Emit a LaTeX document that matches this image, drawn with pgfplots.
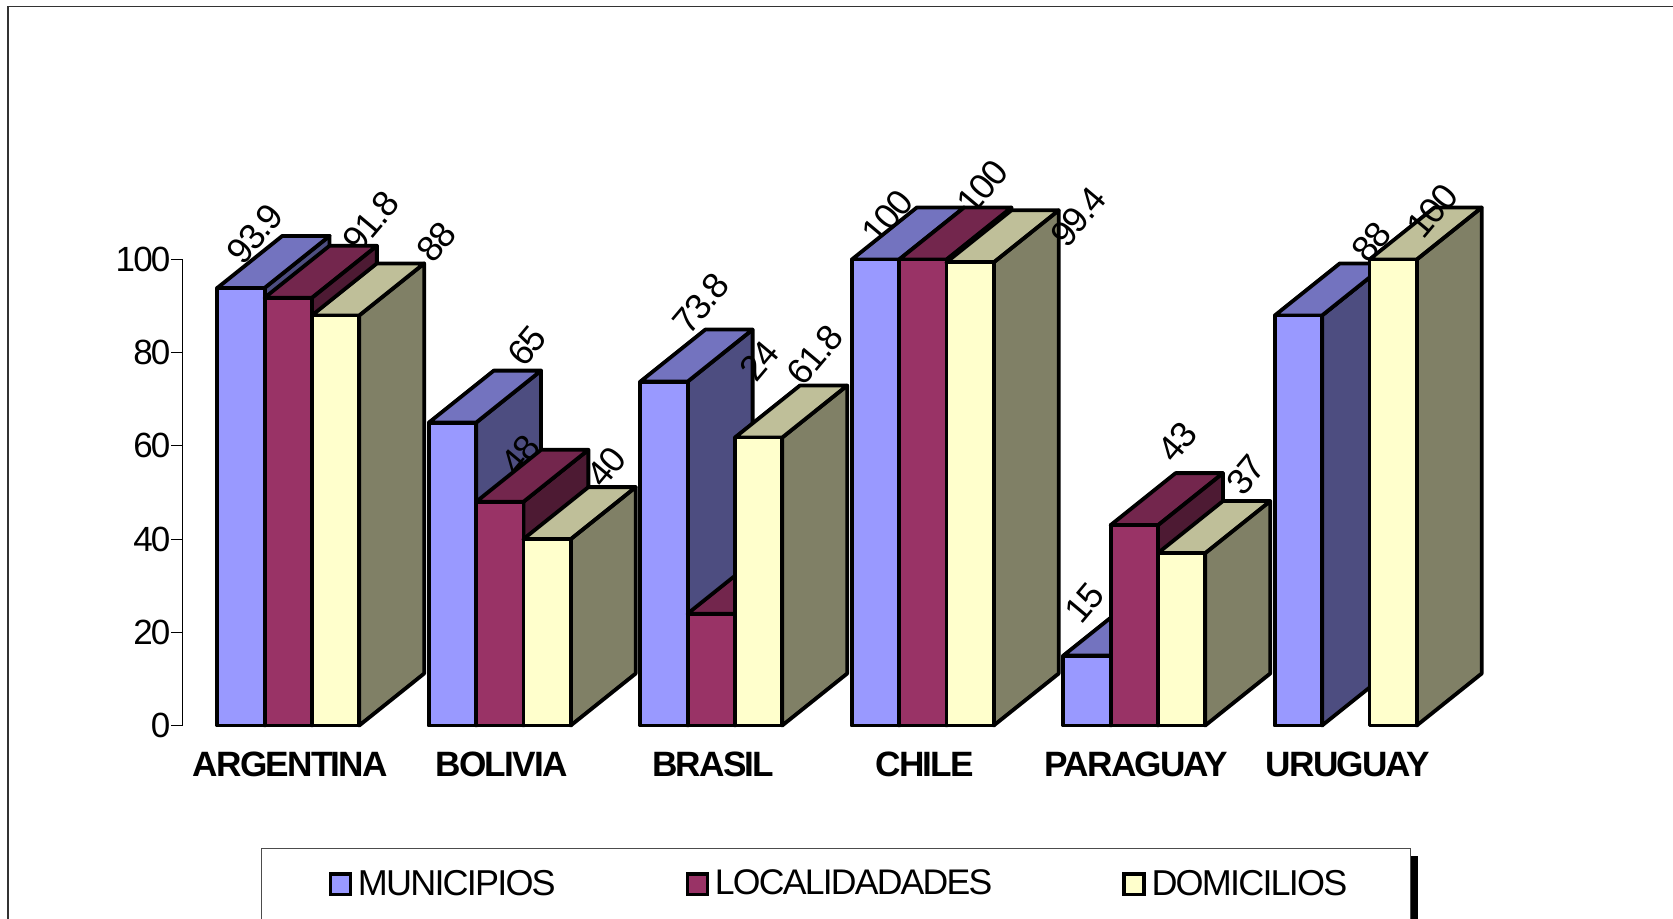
\documentclass[border=0pt]{standalone}
\usepackage{fontspec}
\setmainfont[LetterSpace=-5]{Liberation Sans}
\usepackage{pgfplots}
\pgfplotsset{compat=1.18}

\definecolor{mun}{HTML}{9999FF}
\definecolor{munTop}{HTML}{7373BF}
\definecolor{munSide}{HTML}{4D4D80}
\definecolor{loc}{HTML}{993366}
\definecolor{locTop}{HTML}{73264D}
\definecolor{locSide}{HTML}{4D1A33}
\definecolor{dom}{HTML}{FFFFCC}
\definecolor{domTop}{HTML}{BFBF99}
\definecolor{domSide}{HTML}{808066}

% rotated value label: x, y, text
\newcommand{\etiq}[3]{%
  \node[rotate=50,font=\fontsize{18}{20}\selectfont] at (axis cs:#1,#2) {#3};
}
% one 3D box: category, slot, value, colour
\newcommand{\caja}[4]{%
  \pgfmathsetmacro{\xl}{#1+(#2-1.5)*0.22364}
  \pgfmathsetmacro{\xr}{\xl+0.22364}
  \pgfmathsetmacro{\xlb}{\xl+0.3073}
  \pgfmathsetmacro{\xrb}{\xr+0.3073}
  \pgfmathsetmacro{\yb}{#3+11.16}
  \edef\tmp{\noexpand\addplot[cara,fill=#4Side] coordinates {(\xr,0) (\xr,#3) (\xrb,\yb) (\xrb,11.16)} -- cycle;}\tmp
  \edef\tmp{\noexpand\addplot[cara,fill=#4Top] coordinates {(\xl,#3) (\xr,#3) (\xrb,\yb) (\xlb,\yb)} -- cycle;}\tmp
  \pgfmathsetmacro{\sh}{(#2-1)*23.65}
  \edef\tmp{\noexpand\addplot[cara,ybar,bar width=23.65pt,bar shift=\sh pt,fill=#4] coordinates {(#1,#3)};}\tmp
}

\begin{document}
\begin{tikzpicture}
  \useasboundingbox (0,0) rectangle (836.5pt,459pt);
  \draw[black!80,line width=0.6pt] (4pt,-20pt) rectangle (860pt,455.6pt);
  \fill[black] (704.6pt,-5pt) rectangle (709pt,31pt);
  \begin{axis}[
    at={(91.25pt,96.25pt)}, anchor=south west,
    scale only axis, width=634.5pt, height=233pt,
    xmin=-0.5, xmax=5.5, ymin=0, ymax=100,
    clip=false,
    axis y line=left, axis x line=bottom,
    axis line style={-,line width=0.5pt},
    x axis line style={draw=none},
    xtick={0,1,2,3,4,5},
    xticklabels={ARGENTINA,BOLIVIA,BRASIL,CHILE,PARAGUAY,URUGUAY},
    x tick style={draw=none},
    x tick label style={font=\fontsize{17.6}{20}\selectfont\bfseries,xshift=1pt},
    xticklabel shift=4pt,
    ytick={0,20,40,60,80,100},
    y tick style={black,line width=0.5pt},
    tick align=outside, major tick length=5.5pt,
    y tick label style={font=\fontsize{17.5}{20}\selectfont},
    yticklabel shift=-3pt,
    /pgf/number format/assume math mode=true,
    cara/.style={draw=black,line width=1.9pt,line join=round,forget plot},
    legend cell align=left,
    legend columns=3,
    legend style={at={(0.0622,-0.263)}, anchor=north west,
      draw=black!70, line width=0.5pt, font=\fontsize{18}{20}\selectfont,
      inner xsep=29.5pt, inner ysep=8.7pt,
      /tikz/every even column/.append style={column sep=59.1pt}},
    legend image code/.code={\path (-4.5pt,-11pt) (11.5pt,0);\draw[#1,line width=1.9pt] (0pt,-5.2pt) rectangle (10pt,5.2pt);},
  ]
    % ARGENTINA
    \etiq{-0.159}{105.5}{93.9}
    \caja{0}{0}{93.9}{mun}
    \etiq{0.391}{108.2}{91.8}
    \caja{0}{1}{91.8}{loc}
    \etiq{0.699}{103.7}{88}
    \caja{0}{2}{88}{dom}
    % BOLIVIA
    \etiq{1.128}{81.5}{65}
    \caja{1}{0}{65}{mun}
    \etiq{1.097}{58.1}{48}
    \caja{1}{1}{48}{loc}
    \etiq{1.506}{55.6}{40}
    \caja{1}{2}{40}{dom}
    % BRASIL
    \etiq{1.950}{90.6}{73.8}
    \caja{2}{0}{73.8}{mun}
    \caja{2}{1}{24}{loc}
    \etiq{2.227}{78.3}{24}
    \etiq{2.490}{79.6}{61.8}
    \caja{2}{2}{61.8}{dom}
    % CHILE
    \etiq{2.833}{109.2}{100}
    \caja{3}{0}{100}{mun}
    \etiq{3.282}{115.6}{100}
    \caja{3}{1}{100}{loc}
    \caja{3}{2}{99.4}{dom}
    \etiq{3.736}{109.2}{99.4}
    % PARAGUAY
    \etiq{3.766}{26.3}{15}
    \caja{4}{0}{15}{mun}
    \etiq{4.205}{60.9}{43}
    \caja{4}{1}{43}{loc}
    \etiq{4.528}{53.8}{37}
    \caja{4}{2}{37}{dom}
    % URUGUAY (sin localidades)
    \caja{5}{0}{88}{mun}
    \etiq{5.123}{103.7}{88}
    \caja{5}{2}{100}{dom}
    \etiq{5.410}{110.5}{100}

    \addlegendimage{fill=mun,draw=black}
    \addlegendentry{MUNICIPIOS}
    \addlegendimage{fill=loc,draw=black}
    \addlegendentry{{\fontsize{17.8}{20}\selectfont LOCALIDADADES}}
    \addlegendimage{fill=dom,draw=black}
    \addlegendentry{DOMICILIOS}
  \end{axis}
\end{tikzpicture}
\end{document}
